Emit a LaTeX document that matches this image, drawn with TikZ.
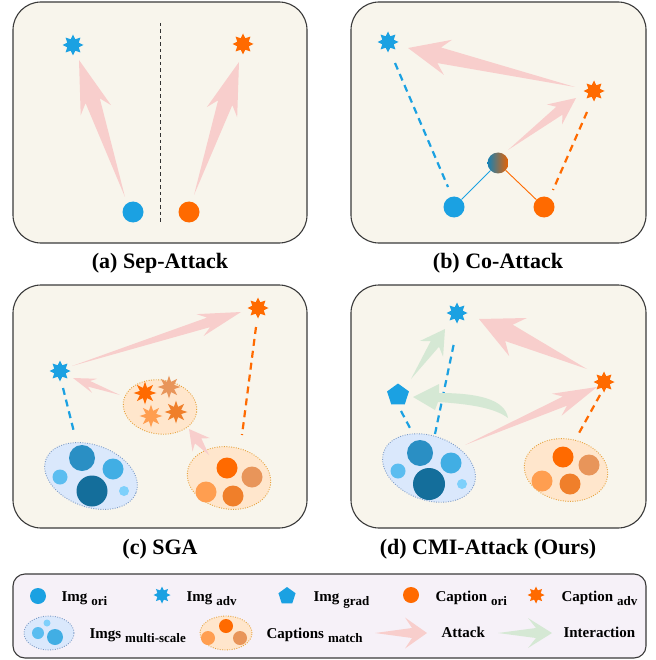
\documentclass[tikz,border=0pt]{standalone}
\usepackage{fontspec}
\setmainfont{Liberation Serif}
\usetikzlibrary{shapes.geometric,calc}
\definecolor{cblue}{HTML}{1BA1E2}
\definecolor{corange}{HTML}{FF6A00}
\definecolor{cpink}{HTML}{F8CECC}
\definecolor{cgreen}{HTML}{D5E8D4}
\definecolor{cpanel}{HTML}{F8F5EC}
\definecolor{clegend}{HTML}{F6F1F8}
\definecolor{cborder}{HTML}{3A3A3A}
\definecolor{cbA}{HTML}{2A8FC4}
\definecolor{cbB}{HTML}{146E9B}
\definecolor{cbC}{HTML}{41AEE4}
\definecolor{cbD}{HTML}{5BBDF0}
\definecolor{cbE}{HTML}{7ED0FB}
\definecolor{coA}{HTML}{FF6A00}
\definecolor{coB}{HTML}{E8955A}
\definecolor{coC}{HTML}{FF9E50}
\definecolor{coD}{HTML}{F07F2A}
\definecolor{cellb}{HTML}{DAE8FC}
\definecolor{cellbd}{HTML}{7E9CC7}
\definecolor{cello}{HTML}{FFE6CC}
\definecolor{cellod}{HTML}{E6A23C}
% fat tapered arrow: color, tail, tip, head length, notch distance, head half width, shaft half width
\newcommand\fatarr[7]{%
  \coordinate (fa-b) at ($(#3)!#4!(#2)$);
  \coordinate (fa-n) at ($(#3)!#5!(#2)$);
  \fill[#1] (#2) -- ($(fa-n)!#7!90:(#3)$) -- ($(fa-b)!#6!90:(#3)$) -- (#3)
     -- ($(fa-b)!#6!-90:(#3)$) -- ($(fa-n)!#7!-90:(#3)$) -- cycle;}
\newcommand\lsub[2]{#1\hspace{4pt}\raisebox{-4pt}{\fontsize{13}{13}\selectfont #2}}
\begin{document}
\begin{tikzpicture}[x=1pt,y=-1pt,
  panel/.style={draw=cborder, line width=1.1, fill=cpanel, rounded corners=28, inner sep=0},
  legbox/.style={draw=cborder, line width=1.1, fill=clegend, rounded corners=12, inner sep=0},
  cdot/.style={circle, fill=#1, inner sep=0, minimum size=21},
  sdot/.style={circle, fill=#1, inner sep=0},
  star8/.style={star, star points=8, star point ratio=1.7, fill=#1, inner sep=0, minimum size=21},
  starc/.style={star, star points=8, star point ratio=2.1, fill=#1, inner sep=0, minimum size=23},
  penta/.style={regular polygon, regular polygon sides=5, fill=cblue, inner sep=0, minimum size=23},
  bdash/.style={cblue, line width=2.2, dash pattern=on 7 off 5},
  odash/.style={corange, line width=2.2, dash pattern=on 7 off 5},
  sepline/.style={black!80, line width=0.9, dash pattern=on 3.5 off 3},
  ellb/.style={ellipse, fill=cellb, draw=cellbd, line width=0.9, dash pattern=on 0.9 off 1.5, inner sep=0},
  ello/.style={ellipse, fill=cello, draw=cellod, line width=0.9, dash pattern=on 0.9 off 1.5, inner sep=0},
  captxt/.style={anchor=base, font=\fontsize{22}{22}\selectfont\bfseries},
  ltxt/.style={anchor=base west, font=\fontsize{15}{15}\selectfont\bfseries}]
\useasboundingbox (0,0) rectangle (655,660);

% ---------- panels ----------
\node[panel, minimum width=294, minimum height=241] (pa) at (160,122.5) {};
\node[panel, minimum width=295, minimum height=241] (pb) at (498.5,122.5) {};
\node[panel, minimum width=294, minimum height=243] (pc) at (160,406.5) {};
\node[panel, minimum width=295, minimum height=243] (pd) at (498.5,406.5) {};
\node[captxt] (capa) at (160,268) {(a) Sep-Attack};
\node[captxt] (capb) at (498,268) {(b) Co-Attack};
\node[captxt] (capc) at (160,554) {(c) SGA};
\node[captxt] (capd) at (488,554) {(d) CMI-Attack (Ours)};

% ---------- (a) ----------
\coordinate (a-top) at (160,23);
\coordinate (a-bot) at (160,223);
\draw[sepline] (a-top) -- (a-bot);
\coordinate (a-t1) at (125,197); \coordinate (a-h1) at (79,60);
\coordinate (a-t2) at (194,195); \coordinate (a-h2) at (239,62);
\fatarr{cpink}{a-t1}{a-h1}{53pt}{43pt}{16pt}{7.5pt}
\fatarr{cpink}{a-t2}{a-h2}{53pt}{43pt}{16pt}{7.5pt}
\node[star8=cblue] (a-ia) at (73,45) {};
\node[star8=corange] (a-ca) at (243,44) {};
\node[cdot=cblue] (a-io) at (133,212) {};
\node[cdot=corange] (a-co) at (189,212) {};

% ---------- (b) ----------
\node[star8=cblue] (b-ia) at (388,42) {};
\node[star8=corange] (b-ca) at (594,91) {};
\node[cdot=cblue] (b-io) at (454,207) {};
\node[cdot=corange] (b-co) at (544,207) {};
\node[circle, inner sep=0, minimum size=21, left color=cblue!80!black, right color=corange!92!black] (b-mix) at (498,163) {};
\draw[cblue, line width=0.9] (b-io) -- (b-mix);
\draw[corange, line width=0.9] (b-mix) -- (b-co);
\coordinate (b-d1) at (395,63); \coordinate (b-d2) at (448,187);
\coordinate (b-d3) at (587,112); \coordinate (b-d4) at (553,190);
\draw[bdash] (b-d1) -- (b-d2);
\draw[odash] (b-d3) -- (b-d4);
\coordinate (b-t1) at (575,87); \coordinate (b-h1) at (408,48);
\coordinate (b-t2) at (508,150); \coordinate (b-h2) at (576,98);
\fatarr{cpink}{b-t1}{b-h1}{41pt}{32pt}{18pt}{8pt}
\fatarr{cpink}{b-t2}{b-h2}{27pt}{21pt}{12.5pt}{5pt}

% ---------- (c) ----------
\node[ello, minimum width=74, minimum height=54, rotate=-8] (c-match) at (160,407) {};
\node[starc=coA] (c-s1) at (145,393) {};
\node[starc=coB] (c-s2) at (169,387) {};
\node[starc=coC] (c-s3) at (151,416) {};
\node[starc=coD] (c-s4) at (176,412) {};
\node[ellb, minimum width=96, minimum height=62, rotate=-20] (c-ms) at (91,476) {};
\node[sdot=cbA, minimum size=26] (c-m1) at (82,458) {};
\node[sdot=cbC, minimum size=21] (c-m2) at (113,469) {};
\node[sdot=cbD, minimum size=15] (c-m3) at (60,477) {};
\node[sdot=cbB, minimum size=31] (c-m4) at (92,491) {};
\node[sdot=cbE, minimum size=10] (c-m5) at (124,491) {};
\node[ello, minimum width=84, minimum height=62, rotate=-10] (c-cap) at (229,478) {};
\node[sdot=coA, minimum size=21] (c-o1) at (227,468) {};
\node[sdot=coB, minimum size=21] (c-o2) at (252,477) {};
\node[sdot=coC, minimum size=21] (c-o3) at (206,492) {};
\node[sdot=coD, minimum size=21] (c-o4) at (233,496) {};
\coordinate (c-d1) at (63,388); \coordinate (c-d2) at (74,432);
\coordinate (c-d3) at (256,327); \coordinate (c-d4) at (242,435);
\draw[bdash] (c-d1) -- (c-d2);
\draw[odash] (c-d3) -- (c-d4);
\coordinate (c-t1) at (72,366); \coordinate (c-h1) at (241,312);
\coordinate (c-t2) at (120,395); \coordinate (c-h2) at (73,378);
\coordinate (c-t3) at (209,455); \coordinate (c-h3) at (189,429);
\fatarr{cpink}{c-t1}{c-h1}{43pt}{34pt}{11.5pt}{5pt}
\fatarr{cpink}{c-t2}{c-h2}{23pt}{17pt}{7.5pt}{3pt}
\fatarr{cpink}{c-t3}{c-h3}{20pt}{15pt}{11pt}{4pt}
\node[star8=corange] (c-ca) at (258,308) {};
\node[star8=cblue] (c-ia) at (60,371) {};

% ---------- (d) ----------
\node[ellb, minimum width=96, minimum height=64, rotate=-20] (d-ms) at (429,468) {};
\node[sdot=cbA, minimum size=26] (d-m1) at (420,453) {};
\node[sdot=cbC, minimum size=21] (d-m2) at (451,463) {};
\node[sdot=cbD, minimum size=15] (d-m3) at (398,471) {};
\node[sdot=cbB, minimum size=32] (d-m4) at (429,484) {};
\node[sdot=cbE, minimum size=10] (d-m5) at (462,484) {};
\node[ello, minimum width=84, minimum height=62, rotate=-10] (d-cap) at (566,470) {};
\node[sdot=coA, minimum size=21] (d-o1) at (563,457) {};
\node[sdot=coB, minimum size=21] (d-o2) at (589,465) {};
\node[sdot=coC, minimum size=21] (d-o3) at (542,481) {};
\node[sdot=coD, minimum size=21] (d-o4) at (570,484) {};
\coordinate (d-d1) at (401,411); \coordinate (d-d2) at (410,428);
\coordinate (d-d3) at (435,434); \coordinate (d-d4) at (454,343);
\coordinate (d-d5) at (600,395); \coordinate (d-d6) at (579,433);
\draw[bdash] (d-d1) -- (d-d2);
\draw[bdash] (d-d3) -- (d-d4);
\draw[odash] (d-d5) -- (d-d6);
\coordinate (d-t1) at (587,369); \coordinate (d-h1) at (479,319);
\coordinate (d-t2) at (465,445); \coordinate (d-h2) at (597,387);
\coordinate (d-t3) at (411,379); \coordinate (d-h3) at (445,329);
\coordinate (d-gt) at (508,418); \coordinate (d-gh) at (413,397);
\fatarr{cpink}{d-t1}{d-h1}{43pt}{33pt}{21pt}{9pt}
\fatarr{cpink}{d-t2}{d-h2}{44pt}{35pt}{12pt}{5pt}
\fatarr{cgreen}{d-t3}{d-h3}{24pt}{18pt}{14pt}{5pt}
\fill[cgreen] (d-gt) .. controls (505,400) and (480,393) .. (439,393) -- (439,384) -- (d-gh)
   -- (435,410) -- (438,402) .. controls (470,404) and (495,408) .. (d-gt);
\node[star8=cblue] (d-ia) at (457,313) {};
\node[star8=corange] (d-ca) at (604,382) {};
\node[penta] (d-grad) at (398,395) {};

% ---------- legend ----------
\node[legbox, minimum width=633, minimum height=84] (leg) at (329.5,616) {};
\node[sdot=cblue, minimum size=16] (l-io) at (38,596) {};
\node[ltxt] (l-iot) at (58,601) {\lsub{Img}{ori}};
\node[star8=cblue, minimum size=17] (l-ia) at (162,595) {};
\node[ltxt] (l-iat) at (183,601) {\lsub{Img}{adv}};
\node[penta, minimum size=18] (l-ig) at (287,596) {};
\node[ltxt] (l-igt) at (310,601) {\lsub{Img}{grad}};
\node[sdot=corange, minimum size=16] (l-co) at (411,595) {};
\node[ltxt] (l-cot) at (432,601) {\lsub{Caption}{ori}};
\node[star8=corange, minimum size=17] (l-ca) at (536,595) {};
\node[ltxt] (l-cat) at (558,601) {\lsub{Caption}{adv}};
\node[ellb, minimum width=50, minimum height=34] (l-ms) at (49,633) {};
\node[sdot=cbD, minimum size=12] (l-ms1) at (38,633) {};
\node[sdot=cbC, minimum size=16] (l-ms2) at (55,637) {};
\node[sdot=cbE, minimum size=7] (l-ms3) at (47,623) {};
\node[ltxt] (l-mst) at (86,638) {\lsub{Imgs}{multi-scale}};
\node[ello, minimum width=52, minimum height=34] (l-cm) at (226,633) {};
\node[sdot=coA, minimum size=14] (l-cm1) at (226,626) {};
\node[sdot=coC, minimum size=14] (l-cm2) at (208,638) {};
\node[sdot=coB, minimum size=14] (l-cm3) at (240,638) {};
\node[ltxt] (l-cmt) at (263,638) {\lsub{Captions}{match}};
\coordinate (l-at) at (375,633); \coordinate (l-ah) at (427,633);
\fatarr{cpink}{l-at}{l-ah}{22pt}{15pt}{15.5pt}{5pt}
\node[ltxt] (l-att) at (438,637) {Attack};
\coordinate (l-gt) at (498,633); \coordinate (l-gh) at (552,633);
\fatarr{cgreen}{l-gt}{l-gh}{24pt}{16pt}{15pt}{5pt}
\node[ltxt] (l-gtt) at (560,637) {Interaction};
\end{tikzpicture}
\end{document}
